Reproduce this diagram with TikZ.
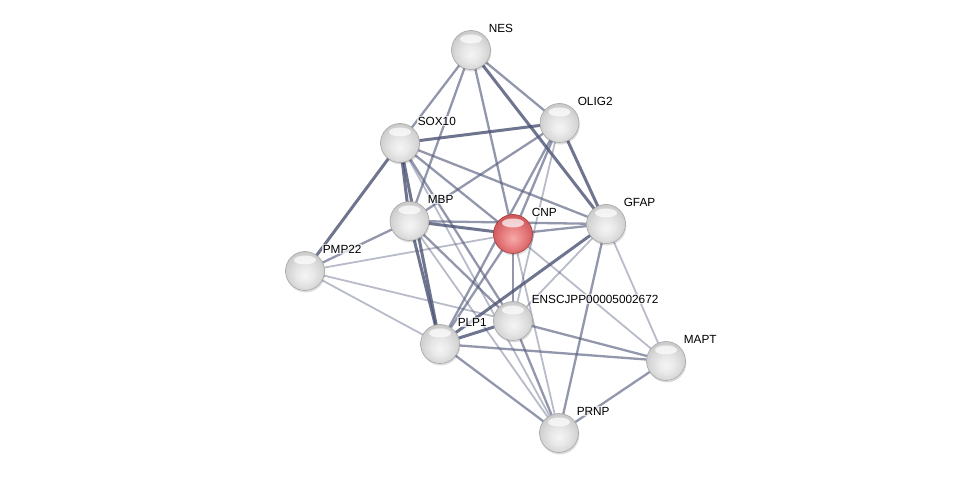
\documentclass[tikz,border=0pt]{standalone}
\usepackage{fontspec}
\setmainfont{Liberation Sans}
\usetikzlibrary{shapes.geometric}
\definecolor{cnpA}{RGB}{246,170,170}
\definecolor{cnpB}{RGB}{232,125,127}
\definecolor{cnpC}{RGB}{205,85,88}
\definecolor{cnpD}{RGB}{165,60,62}
\definecolor{edgec}{RGB}{85,92,125}
\definecolor{edgedark}{RGB}{75,82,115}
\pgfdeclareradialshading{grayball}{\pgfpoint{0bp}{-6bp}}{color(0bp)=(gray!8); color(10bp)=(gray!17); color(20bp)=(gray!30); color(30bp)=(gray!46); color(38bp)=(gray!60); color(50bp)=(gray!68)}
\pgfdeclareradialshading{redball}{\pgfpoint{0bp}{-6bp}}{color(0bp)=(cnpA); color(14bp)=(cnpB); color(28bp)=(cnpC); color(38bp)=(cnpD); color(50bp)=(cnpD)}
\begin{document}
\begin{tikzpicture}[x=1pt,y=-1pt,
  ball/.style={circle,minimum size=39pt,inner sep=0pt,shading=grayball,draw=gray!70,line width=0.6pt},
  redb/.style={ball,shading=redball,draw=cnpD},
  shadow/.style={circle,minimum size=39pt,inner sep=0pt,fill=black,fill opacity=0.13},
  hilite/.style={ellipse,minimum width=22pt,minimum height=9pt,inner sep=0pt,fill=white,fill opacity=0.7},
  lbl/.style={anchor=west,inner sep=0.6pt,fill=white,fill opacity=0.7,text opacity=1,font=\fontsize{11.8}{13}\selectfont},
  e1/.style={draw=edgec,line width=1.8pt,draw opacity=0.42},
  e2/.style={draw=edgec,line width=2.3pt,draw opacity=0.64},
  e3/.style={draw=edgedark,line width=3pt,draw opacity=0.8}]
\useasboundingbox (0,0) rectangle (975,478);
% node positions
\coordinate (pNES) at (471,50);
\coordinate (pOLIG2) at (559.5,123);
\coordinate (pSOX10) at (400,143);
\coordinate (pMBP) at (409.5,221);
\coordinate (pCNP) at (513,234);
\coordinate (pGFAP) at (606,224);
\coordinate (pPMP22) at (305,271);
\coordinate (pENS) at (513,321);
\coordinate (pPLP1) at (440,344);
\coordinate (pMAPT) at (666,361);
\coordinate (pPRNP) at (559,433);
% edges
\draw[e2] (pNES) -- (pSOX10);
\draw[e2] (pNES) -- (pMBP);
\draw[e2] (pNES) -- (pCNP);
\draw[e2] (pNES) -- (pOLIG2);
\draw[e3] (pNES) -- (pGFAP);
\draw[e3] (pSOX10) -- (pOLIG2);
\draw[e3] (pSOX10) -- (pPMP22);
\draw[e3] (pSOX10) -- (pMBP);
\draw[e3] (pSOX10) -- (pPLP1);
\draw[e2] (pSOX10) -- (pCNP);
\draw[e2] (pSOX10) -- (pGFAP);
\draw[e2] (pSOX10) -- (pENS);
\draw[e1] (pSOX10) -- (pPRNP);
\draw[e2] (pOLIG2) -- (pMBP);
\draw[e2] (pOLIG2) -- (pCNP);
\draw[e3] (pOLIG2) -- (pGFAP);
\draw[e2] (pOLIG2) -- (pPLP1);
\draw[e1] (pOLIG2) -- (pENS);
\draw[e3] (pMBP) -- (pCNP);
\draw[e2] (pMBP) -- (pGFAP);
\draw[e3] (pMBP) -- (pPLP1);
\draw[e2] (pMBP) -- (pENS);
\draw[e1] (pMBP) -- (pPRNP);
\draw[e2] (pMBP) -- (pPMP22);
\draw[e2] (pCNP) -- (pGFAP);
\draw[e2] (pCNP) -- (pPLP1);
\draw[e2] (pCNP) -- (pENS);
\draw[e1] (pCNP) -- (pMAPT);
\draw[e1] (pCNP) -- (pPRNP);
\draw[e1] (pCNP) -- (pPMP22);
\draw[e3] (pGFAP) -- (pPLP1);
\draw[e1] (pGFAP) -- (pENS);
\draw[e1] (pGFAP) -- (pMAPT);
\draw[e2] (pGFAP) -- (pPRNP);
\draw[e1] (pPMP22) -- (pPLP1);
\draw[e1] (pPMP22) -- (pENS);
\draw[e3] (pPLP1) -- (pENS);
\draw[e2] (pPLP1) -- (pMAPT);
\draw[e2] (pPLP1) -- (pPRNP);
\draw[e2] (pENS) -- (pMAPT);
\draw[e2] (pENS) -- (pPRNP);
\draw[e2] (pMAPT) -- (pPRNP);
% shadows
\foreach \p in {NES,OLIG2,SOX10,MBP,CNP,GFAP,PMP22,ENS,PLP1,MAPT,PRNP}
  \node[shadow] (s\p) at ([shift={(0.8,2)}]p\p) {};
% nodes
\node[ball] (NES) at (pNES) {};
\node[ball] (OLIG2) at (pOLIG2) {};
\node[ball] (SOX10) at (pSOX10) {};
\node[ball] (MBP) at (pMBP) {};
\node[redb] (CNP) at (pCNP) {};
\node[ball] (GFAP) at (pGFAP) {};
\node[ball] (PMP22) at (pPMP22) {};
\node[ball] (ENS) at (pENS) {};
\node[ball] (PLP1) at (pPLP1) {};
\node[ball] (MAPT) at (pMAPT) {};
\node[ball] (PRNP) at (pPRNP) {};
% highlights
\foreach \p in {NES,OLIG2,SOX10,MBP,CNP,GFAP,PMP22,ENS,PLP1,MAPT,PRNP}
  \node[hilite] (h\p) at ([shift={(0,-11)}]p\p) {};
% labels
\node[lbl] (lNES) at (488,28) {NES};
\node[lbl] (lOLIG2) at (577,101) {OLIG2};
\node[lbl] (lSOX10) at (417,121) {SOX10};
\node[lbl] (lMBP) at (427,199) {MBP};
\node[lbl] (lCNP) at (531,212) {CNP};
\node[lbl] (lGFAP) at (623,202) {GFAP};
\node[lbl] (lPMP22) at (322,249) {PMP22};
\node[lbl] (lENS) at (531,299) {ENSCJPP00005002672};
\node[lbl] (lPLP1) at (457,322) {PLP1};
\node[lbl] (lMAPT) at (683,339) {MAPT};
\node[lbl] (lPRNP) at (576,411) {PRNP};
\end{tikzpicture}
\end{document}
